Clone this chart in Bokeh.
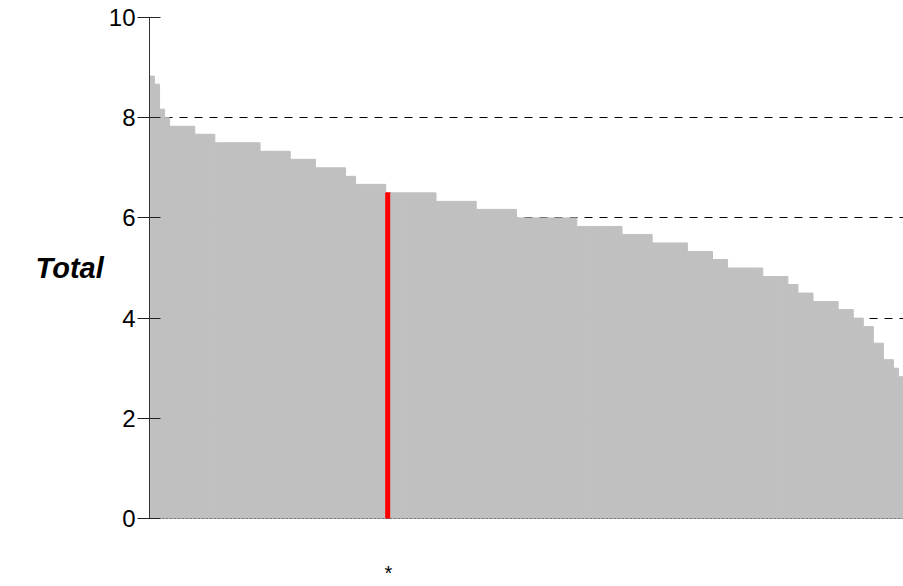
from bokeh.plotting import figure
from bokeh.models import Range1d, FixedTicker, Span, ColumnDataSource
from bokeh.embed import file_html
from bokeh.resources import INLINE

# ---- data ----
ranks = list(range(1, 151))
totals = [
    8.83, 8.67, 8.17, 8.0,
    7.83, 7.83, 7.83, 7.83, 7.83,
    7.67, 7.67, 7.67, 7.67,
    7.5, 7.5, 7.5, 7.5, 7.5, 7.5, 7.5, 7.5, 7.5,
    7.33, 7.33, 7.33, 7.33, 7.33, 7.33,
    7.17, 7.17, 7.17, 7.17, 7.17,
    7.0, 7.0, 7.0, 7.0, 7.0, 7.0,
    6.83, 6.83,
    6.67, 6.67, 6.67, 6.67, 6.67, 6.67,
    6.5,
    6.5, 6.5, 6.5, 6.5, 6.5, 6.5, 6.5, 6.5, 6.5,
    6.33, 6.33, 6.33, 6.33, 6.33, 6.33, 6.33, 6.33,
    6.17, 6.17, 6.17, 6.17, 6.17, 6.17, 6.17, 6.17,
    6.0, 6.0, 6.0, 6.0, 6.0, 6.0, 6.0, 6.0, 6.0, 6.0, 6.0, 6.0,
    5.83, 5.83, 5.83, 5.83, 5.83, 5.83, 5.83, 5.83, 5.83,
    5.67, 5.67, 5.67, 5.67, 5.67, 5.67,
    5.5, 5.5, 5.5, 5.5, 5.5, 5.5, 5.5,
    5.33, 5.33, 5.33, 5.33, 5.33,
    5.17, 5.17, 5.17,
    5.0, 5.0, 5.0, 5.0, 5.0, 5.0, 5.0,
    4.83, 4.83, 4.83, 4.83, 4.83,
    4.67, 4.67,
    4.5, 4.5, 4.5,
    4.33, 4.33, 4.33, 4.33, 4.33,
    4.17, 4.17, 4.17,
    4.0, 4.0,
    3.83, 3.83,
    3.5, 3.5,
    3.17, 3.17,
    3.0,
    2.83,
]
highlight_rank = 48
highlight_label = "*"
y_ticks = [0, 2, 4, 6, 8, 10]
y_label = "Total"

colors = ["#FF0000" if r == highlight_rank else "#C0C0C0" for r in ranks]
src = ColumnDataSource(dict(x=ranks, top=totals, color=colors))

FONT = "Liberation Sans"

p = figure(width=903, height=586,
           x_range=Range1d(0.5, len(ranks) + 0.5), y_range=Range1d(0, 10),
           output_backend="svg", toolbar_location=None,
           min_border_left=149, min_border_right=0,
           min_border_top=17, min_border_bottom=68)
p.outline_line_color = None
p.background_fill_color = "white"

p.vbar(x="x", top="top", bottom=0, width=1.0, source=src,
       fill_color="color", line_color="color", line_width=1)

# baseline
p.add_layout(Span(location=0, dimension="width", line_color="#222222",
                  line_width=1, line_dash="3 1"))

# grid
p.xgrid.grid_line_color = None
p.ygrid.grid_line_color = "black"
p.ygrid.grid_line_dash = "8 7"
p.ygrid.grid_line_width = 1
p.ygrid.level = "underlay"

# y axis
p.yaxis.ticker = FixedTicker(ticks=y_ticks)
p.yaxis.minor_tick_line_color = None
p.yaxis.major_tick_in = 11
p.yaxis.major_tick_out = 12
p.yaxis.major_tick_line_color = "#222222"
p.yaxis.axis_line_color = "#333333"
p.yaxis.major_label_standoff = 2
p.yaxis.major_label_text_font = FONT
p.yaxis.major_label_text_font_size = "24px"
p.yaxis.major_label_text_color = "black"
p.yaxis.axis_label = y_label
p.yaxis.axis_label_orientation = "horizontal"
p.yaxis.axis_label_text_font = FONT
p.yaxis.axis_label_text_font_style = "bold italic"
p.yaxis.axis_label_text_font_size = "29px"
p.yaxis.axis_label_text_color = "black"
p.yaxis.axis_label_standoff = 2

# x axis: only the highlighted item is labelled
p.xaxis.ticker = FixedTicker(ticks=[highlight_rank])
p.xaxis.major_label_overrides = {highlight_rank: highlight_label}
p.xaxis.axis_line_color = None
p.xaxis.major_tick_line_color = None
p.xaxis.minor_tick_line_color = None
p.xaxis.major_tick_in = 0
p.xaxis.major_tick_out = 0
p.xaxis.major_label_standoff = 43
p.xaxis.major_label_text_line_height = 0.6
p.xaxis.major_label_text_font = FONT
p.xaxis.major_label_text_font_size = "20px"
p.xaxis.major_label_text_color = "black"

open("out.html", "w").write(file_html(p, INLINE))
